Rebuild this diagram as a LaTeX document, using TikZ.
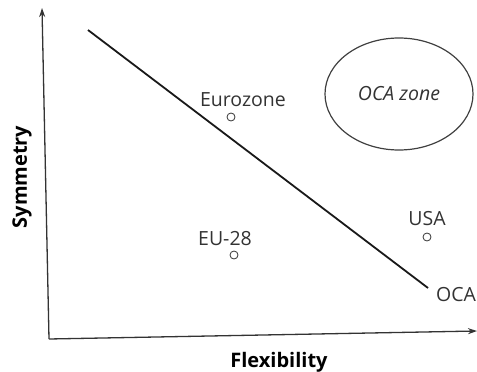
\documentclass[tikz,border=0pt]{standalone}
\usepackage{fontspec}
\setmainfont{Open Sans}
\usetikzlibrary{arrows.meta,shapes.geometric}
\begin{document}
\begin{tikzpicture}[x=1pt,y=-1pt,
  axis/.style={draw=black!80,line width=1.3pt,-{Stealth[length=9pt,width=6pt]}},
  country/.style={font=\fontsize{19.5}{22}\selectfont,text=black!80,inner sep=0pt},
  marker/.style={circle,draw=black!80,line width=0.8pt,minimum size=8pt,inner sep=0pt},
  axlabel/.style={font=\fontsize{20}{22}\selectfont\bfseries,inner sep=0pt}]
\useasboundingbox (0,0) rectangle (477,372);
\coordinate (o) at (49,339);
\coordinate (ytop) at (42,8);
\coordinate (xend) at (477,331);
\draw[axis] (o) -- (ytop);
\draw[axis] (o) -- (xend);
\coordinate (l1) at (88,30);
\coordinate (l2) at (428,288);
\draw[line width=1.8pt,black!90] (l1) -- (l2);
\node[marker] (ez) at (231,117) {};
\node[country,anchor=base] (eztext) at (243,106) {Eurozone};
\node[marker] (eu) at (234,255) {};
\node[country,anchor=base] (eutext) at (225,245) {EU-28};
\node[marker] (us) at (427,237) {};
\node[country,anchor=base] (ustext) at (427,225) {USA};
\node[country,anchor=base west] (oca) at (436,301) {OCA};
\node[ellipse,draw=black!75,line width=1.2pt,minimum width=148pt,minimum height=112pt,inner sep=0pt,font=\fontsize{19.5}{22}\selectfont\itshape,text=black!80] (zone) at (399,94) {OCA zone};
\node[axlabel,rotate=90] (sym) at (22,177) {Symmetry};
\node[axlabel] (flex) at (279,362) {Flexibility};
\end{tikzpicture}
\end{document}
